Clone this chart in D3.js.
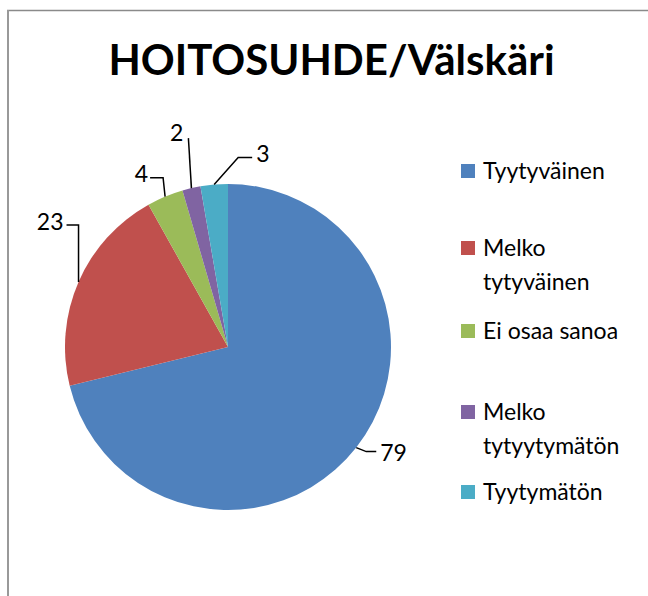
<!DOCTYPE html>
<html><head><meta charset="utf-8">
<script src="https://cdn.jsdelivr.net/npm/d3@7"></script>
<style>body{margin:0;background:#fff}svg{display:block}</style>
</head><body>
<script>
const title = "HOITOSUHDE/Välskäri";
const categories = ["Tyytyväinen", "Melko tytyväinen", "Ei osaa sanoa", "Melko tytyytymätön", "Tyytymätön"];
const legendLines = [["Tyytyväinen"], ["Melko", "tytyväinen"], ["Ei osaa sanoa"], ["Melko", "tytyytymätön"], ["Tyytymätön"]];
const values = [79, 23, 4, 2, 3];
const colors = ["#4F81BD", "#C0504D", "#9BBB59", "#8064A2", "#4BACC6"];

const W = 648, H = 596;
const svg = d3.select("body").append("svg").attr("width", W).attr("height", H);
const font = "Lato, 'Open Sans', sans-serif";

svg.append("line").attr("x1", 7).attr("y1", 10.5).attr("x2", W).attr("y2", 10.5)
  .attr("stroke", "#8a8a8a").attr("stroke-width", 1.5);
svg.append("line").attr("x1", 8).attr("y1", 10).attr("x2", 8).attr("y2", H)
  .attr("stroke", "#999").attr("stroke-width", 2);

svg.append("text").attr("x", 331.5).attr("y", 75).attr("text-anchor", "middle")
  .attr("font-family", font).attr("font-weight", 700).attr("font-size", 42)
  .text(title);

const cx = 228, cy = 347, R = 163;
const pie = d3.pie().sort(null).value(d => d);
const arcs = pie(values);
const arc = d3.arc().innerRadius(0).outerRadius(R);
const g = svg.append("g").attr("transform", `translate(${cx},${cy})`);
g.selectAll("path.slice").data(arcs).join("path").attr("class", "slice")
  .attr("d", arc).attr("fill", (d, i) => colors[i]);

// leader lines: elbow offsets relative to anchor on the pie edge (layout only)
const leaders = [
  {pts: [[10, 4], [20, 4]], tx: 24, ty: 5, anchor: "start"},
  {pts: [[0, -57], [-12, -57]], tx: -15, ty: -60, anchor: "end"},
  {pts: [[-2, -19], [-15, -19]], tx: -17, ty: -23, anchor: "end"},
  {pts: [[-3, -50]], tx: -8, ty: -55, anchor: "end"},
  {pts: [[24, -27], [38, -27]], tx: 42, ty: -31, anchor: "start"}
];
arcs.forEach((d, i) => {
  const a = (d.startAngle + d.endAngle) / 2;
  const x0 = Math.sin(a) * R, y0 = -Math.cos(a) * R;
  const L = leaders[i];
  const pts = [[x0, y0]].concat(L.pts.map(p => [x0 + p[0], y0 + p[1]]));
  g.append("path").attr("d", d3.line()(pts)).attr("fill", "none")
    .attr("stroke", "#000").attr("stroke-width", 1.5);
  g.append("text").attr("x", x0 + L.tx).attr("y", y0 + L.ty)
    .attr("dy", "0.35em").attr("text-anchor", L.anchor)
    .attr("font-family", font).attr("font-size", 23).text(values[i]);
});

const legendY = [171, 248, 331, 412, 492];
const lg = svg.append("g");
categories.forEach((c, i) => {
  lg.append("rect").attr("x", 461).attr("y", legendY[i] - 7).attr("width", 14).attr("height", 14)
    .attr("fill", colors[i]);
  legendLines[i].forEach((t, j) => {
    lg.append("text").attr("x", 483).attr("y", legendY[i] + j * 34).attr("dy", "0.35em")
      .attr("font-family", font).attr("font-size", 23).text(t);
  });
});
</script>
</body></html>
